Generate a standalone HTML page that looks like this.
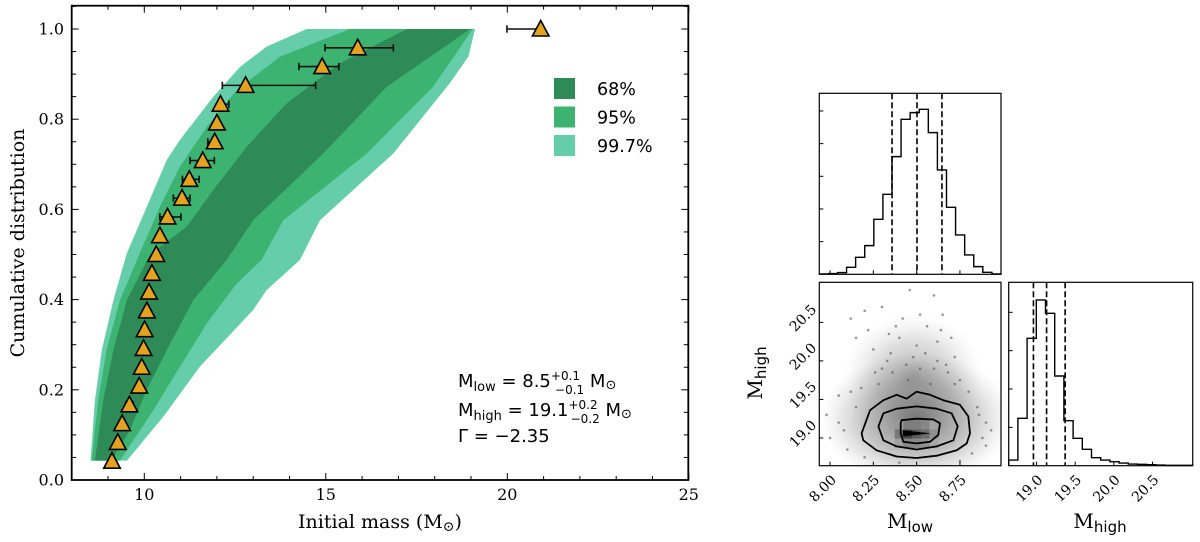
<!DOCTYPE html>
<html><head><meta charset="utf-8">
<style>
html,body{margin:0;padding:0;background:#fff;}
svg{display:block;}
.ser{font-family:"DejaVu Serif","Liberation Serif",serif;}
.sans{font-family:"DejaVu Sans","Liberation Sans",sans-serif;}
</style></head>
<body>
<svg id="chart" width="1200" height="542" viewBox="0 0 1200 542" xmlns="http://www.w3.org/2000/svg">
<defs>
<radialGradient id="cloud" cx="50%" cy="50%" r="50%">
<stop offset="0%" stop-color="#444" stop-opacity="0.75"/>
<stop offset="55%" stop-color="#777" stop-opacity="0.45"/>
<stop offset="100%" stop-color="#aaa" stop-opacity="0"/>
</radialGradient>
<clipPath id="clip2d"><rect x="819.3" y="282.3" width="181.7" height="183.4"/></clipPath>
</defs>
</svg>
<script>
// ---------- main chart data ----------
const cdfLevels = [1,2,3,4,5,6,7,8,9,10,11,12,13,14,15,16,17,18,19,20,21,22,23,24].map(i=>i/24);
const masses = [9.11,9.27,9.39,9.59,9.86,9.93,9.98,10.01,10.07,10.13,10.21,10.33,10.43,10.64,11.04,11.24,11.61,11.94,12.0,12.10,12.79,14.90,15.88,20.92];
const errLo  = [9.06,9.22,9.31,9.49,9.82,9.90,9.95,9.98,10.04,10.10,10.17,10.29,10.38,10.43,10.80,11.05,11.26,11.75,11.97,12.03,12.15,14.26,14.98,19.99];
const errHi  = [9.16,9.32,9.47,9.69,9.90,9.96,10.01,10.05,10.10,10.16,10.25,10.37,10.48,11.01,11.26,11.51,11.93,11.98,12.04,12.33,14.72,15.36,16.86,20.92];
const band997Left  = [[14.47,1.0],[13.37,0.961],[12.64,0.916],[11.90,0.850],[10.98,0.754],[10.62,0.710],[10.07,0.606],[9.52,0.503],[9.15,0.399],[8.83,0.288],[8.64,0.177],[8.52,0.043]];
const band997Right = [[9.52,0.043],[10.52,0.140],[11.53,0.251],[13.0,0.377],[13.37,0.421],[14.29,0.488],[14.84,0.576],[16.86,0.724],[18.42,0.880],[18.93,0.939],[19.11,1.0]];
const band95Left   = [[15.67,1.0],[13.74,0.939],[12.55,0.865],[11.72,0.783],[10.98,0.695],[10.43,0.606],[9.88,0.503],[9.33,0.399],[8.96,0.288],[8.73,0.177],[8.55,0.043]];
const band95Right  = [[9.33,0.043],[10.25,0.155],[10.98,0.251],[11.72,0.347],[12.55,0.436],[13.23,0.488],[13.83,0.576],[16.13,0.724],[17.96,0.872],[19.05,1.0]];
const band68Left   = [[17.23,1.0],[15.39,0.924],[13.92,0.835],[12.82,0.739],[11.90,0.643],[11.17,0.562],[10.16,0.5],[9.52,0.399],[9.15,0.288],[8.87,0.177],[8.64,0.043]];
const band68Right  = [[9.10,0.043],[9.61,0.111],[10.07,0.2],[10.62,0.288],[11.35,0.399],[12.27,0.488],[13.0,0.576],[14.93,0.724],[16.68,0.872],[18.98,1.0]];
const xTicks = [10,15,20,25];
const yTicks = [0.0,0.2,0.4,0.6,0.8,1.0];
const legendLabels = ["68%","95%","99.7%"];
const legendColors = ["#2e8b57","#3cb371","#66cdaa"];

// ---------- corner plot data ----------
const mlowCounts  = [1,2,5,21,51,86,165,240,353,465,485,495,425,313,201,118,58,23,6,1];
const mhighCounts = [17,142,382,497,457,269,135,82,49,24,17,12,8,5,4,3,2,1,1,1];
const mlowQuantiles  = [8.358,8.502,8.646];
const mhighQuantiles = [18.96,19.13,19.37];
const mlowTicks  = [8.00,8.25,8.50,8.75];
const mhighTicks = [19.0,19.5,20.0,20.5];
const contourOuter = [[8.182,19.06],[8.231,19.36],[8.308,19.49],[8.385,19.56],[8.442,19.51],[8.500,19.60],[8.577,19.56],[8.654,19.49],[8.750,19.43],[8.798,19.28],[8.808,19.06],[8.789,18.93],[8.731,18.84],[8.616,18.77],[8.500,18.74],[8.385,18.76],[8.269,18.84],[8.192,18.97]];
const contourMiddle = [[8.279,19.15],[8.308,19.32],[8.385,19.38],[8.5,19.41],[8.616,19.38],[8.702,19.32],[8.737,19.15],[8.712,18.97],[8.616,18.89],[8.5,18.85],[8.385,18.89],[8.308,18.97]];
const contourInner = [[8.408,19.19],[8.413,19.23],[8.5,19.25],[8.596,19.24],[8.635,19.19],[8.625,19.04],[8.577,18.95],[8.5,18.93],[8.423,18.95],[8.408,19.06]];
const scatterPts = [[8.05,19.55],[8.12,20.55],[8.15,20.3],[8.2,20.65],[8.25,20.15],[8.3,20.7],[8.33,20.0],[8.36,19.85],[8.4,20.3],[8.42,20.55],[8.46,20.92],[8.5,20.2],[8.52,19.9],[8.56,20.45],[8.6,20.85],[8.62,20.0],[8.65,20.6],[8.67,19.95],[8.7,20.3],[8.72,20.05],[8.75,19.75],[8.8,19.6],[8.85,19.4],[8.9,19.2],[8.93,19.1],[8.0,19.0],[8.05,19.2],[8.1,18.85],[8.15,19.4],[8.28,19.7],[8.45,19.75],[8.58,19.7],[8.38,20.45],[8.22,20.4],[8.62,20.25],[8.3,19.9],[8.48,20.05],[8.68,19.85],[8.12,19.6],[8.82,18.8],[8.2,18.75],[8.75,18.7],[8.4,18.68],[8.88,19.0],[7.98,19.3],[8.35,20.1],[8.55,20.1],[8.44,19.95],[8.6,19.9],[8.26,19.85],[8.72,19.7],[8.18,19.65],[8.64,20.4],[8.34,20.35],[8.52,20.6],[8.08,19.1],[8.86,19.3],[8.9,18.9]];
const densityMl = [8.40,8.45,8.50,8.55,8.60];
const densityMh = [19.17,19.05,18.93];
const densityVals = [[0.4,0.55,0.55,0.5,0.35],[0.6,0.9,0.75,0.65,0.45],[0.35,0.5,0.5,0.45,0.3]];

// ---------- helpers ----------
const NS="http://www.w3.org/2000/svg";
const svg=document.getElementById('chart');
function mk(tag,attrs,parent){const e=document.createElementNS(NS,tag);for(const k in attrs)e.setAttribute(k,attrs[k]);(parent||svg).appendChild(e);return e;}

const X=v=>71.7+(v-8)*36.3;
const Y=v=>480-v*451;
const main=mk('g',{});



function bandPoly(left,right,color,name){
  const pts=left.concat(right).map(p=>X(p[0]).toFixed(1)+','+Y(p[1]).toFixed(1)).join(' ');
  const p=mk('polygon',{points:pts,fill:color},main);
  
  
}
bandPoly(band997Left,band997Right,'#66cdaa','band-99-7');
bandPoly(band95Left,band95Right,'#3cb371','band-95');
bandPoly(band68Left,band68Right,'#2e8b57','band-68');

for(let i=0;i<masses.length;i++){
  const y=Y(cdfLevels[i]);
  const g=mk('g',{},main);
  
  
  const x1=X(errLo[i]),x2=X(errHi[i]);
  mk('line',{x1:x1,x2:x2,y1:y,y2:y,stroke:'#111','stroke-width':1.6},g);
  mk('line',{x1:x1,x2:x1,y1:y-3.7,y2:y+3.7,stroke:'#111','stroke-width':1.6},g);
  mk('line',{x1:x2,x2:x2,y1:y-3.7,y2:y+3.7,stroke:'#111','stroke-width':1.6},g);
  const x=X(masses[i]);
  mk('polygon',{points:`${x},${y-8.5} ${x-8.3},${y+7} ${x+8.3},${y+7}`,fill:'#e5a21f',stroke:'#000','stroke-width':1.6},g);
}

const fr=mk('rect',{x:71.7,y:5.7,width:616.6,height:474.3,fill:'none',stroke:'#000','stroke-width':1.8},main);


for(let v=8;v<=25;v++){
  const x=X(v),L=(v%5===0)?7:4;
  mk('line',{x1:x,x2:x,y1:480,y2:480-L,stroke:'#000','stroke-width':1},main);
  mk('line',{x1:x,x2:x,y1:5.7,y2:5.7+L,stroke:'#000','stroke-width':1},main);
}
for(let k=0;k<=21;k++){
  const v=k*0.05,y=Y(v),L=(k%4===0)?7:4.5;
  if(y<6)continue;
  mk('line',{x1:71.7,x2:71.7+L,y1:y,y2:y,stroke:'#000','stroke-width':1},main);
  mk('line',{x1:688.3,x2:688.3-L,y1:y,y2:y,stroke:'#000','stroke-width':1},main);
}
xTicks.forEach(v=>{
  const t=mk('text',{x:X(v),y:500,'text-anchor':'middle','font-size':16,class:'ser'},main);
  t.textContent=String(v);
  
  
});
yTicks.forEach(v=>{
  const t=mk('text',{x:64,y:Y(v)+5.5,'text-anchor':'end','font-size':16,class:'ser'},main);
  t.textContent=v.toFixed(1);
  
  
});
legendLabels.forEach((lab,i)=>{
  const g=mk('g',{},main);
  
  
  const y0=78+i*28.5;
  mk('rect',{x:554,y:y0,width:21,height:21,fill:legendColors[i]},g);
  const t=mk('text',{x:597,y:y0+17,'font-size':17.5,class:'sans'},g);
  t.textContent=lab;
});

(function(){
  const xl=mk('text',{x:380,y:528,'text-anchor':'middle','font-size':19,class:'ser'});
  xl.innerHTML='Initial mass (M<tspan font-size="14" dy="3">⊙</tspan><tspan dy="-3">)</tspan>';
  
  
  const yl=mk('text',{x:0,y:0,'text-anchor':'middle','font-size':19,class:'ser',transform:'translate(24,243) rotate(-90)'});
  yl.textContent='Cumulative distribution';
  
  
  const ann=mk('g',{class:'sans','font-size':18});
  
  
  const a1=mk('text',{x:458,y:387},ann);
  a1.innerHTML='M<tspan font-size="13" dy="4">low</tspan><tspan dy="-4"> = 8.5</tspan><tspan font-size="12" dy="-7">+0.1</tspan><tspan font-size="12" dx="-25" dy="14">−0.1</tspan><tspan dy="-7"> M</tspan><tspan font-size="13" dy="2">⊙</tspan>';
  const a2=mk('text',{x:458,y:416},ann);
  a2.innerHTML='M<tspan font-size="13" dy="4">high</tspan><tspan dy="-4"> = 19.1</tspan><tspan font-size="12" dy="-7">+0.2</tspan><tspan font-size="12" dx="-27" dy="14">−0.2</tspan><tspan dy="-7"> M</tspan><tspan font-size="13" dy="2">⊙</tspan>';
  const a3=mk('text',{x:458,y:442},ann);
  a3.textContent='Γ = −2.35';
})();

(function(){
  const P1={l:819.3,r:1001,t:93.3,b:274.3};
  const P2={l:819.3,r:1001,t:282.3,b:465.7};
  const P3={l:1008.7,r:1192.7,t:282.3,b:465.7};
  const mlMin=7.938,mlMax=8.987,mhMin=18.64,mhMax=21.02;
  const XL=v=>P2.l+(v-mlMin)/(mlMax-mlMin)*(P2.r-P2.l);
  const YH=v=>P2.b-(v-mhMin)/(mhMax-mhMin)*(P2.b-P2.t);
  const XH=v=>P3.l+(v-mhMin)/(mhMax-mhMin)*(P3.r-P3.l);
  const corner=mk('g',{});
  
  

  const g1=mk('g',{},corner);
  
  
  const maxC1=543;
  const H1=c=>P1.b-c/maxC1*(P1.b-P1.t);
  let d='M'+P1.l+','+P1.b;
  const bw1=(P1.r-P1.l)/mlowCounts.length;
  mlowCounts.forEach((c,i)=>{const x0=P1.l+i*bw1;d+=` L${x0},${H1(c)} L${x0+bw1},${H1(c)}`;});
  d+=` L${P1.r},${P1.b}`;
  mk('path',{d:d,fill:'none',stroke:'#000','stroke-width':1.4},g1);
  mlowQuantiles.forEach(q=>{
    const l=mk('line',{x1:XL(q),x2:XL(q),y1:P1.t,y2:P1.b,stroke:'#000','stroke-width':1.6,'stroke-dasharray':'6,3'},g1);
    
    
  });
  mk('rect',{x:P1.l,y:P1.t,width:P1.r-P1.l,height:P1.b-P1.t,fill:'none',stroke:'#000','stroke-width':1.2},g1);
  for(let c=98;c<maxC1;c+=98){mk('line',{x1:P1.l,x2:P1.l+4,y1:H1(c),y2:H1(c),stroke:'#000'},g1);}
  mlowTicks.forEach(v=>mk('line',{x1:XL(v),x2:XL(v),y1:P1.b,y2:P1.b-4,stroke:'#000'},g1));

  const g2=mk('g',{'clip-path':'url(#clip2d)'},corner);
  
  
  mk('ellipse',{cx:XL(8.5),cy:YH(19.25),rx:(XL(9.05)-XL(8.5)),ry:(YH(18.4)-YH(19.25)),fill:'url(#cloud)'},g2);
  mk('ellipse',{cx:XL(8.48),cy:YH(19.8),rx:(XL(8.9)-XL(8.5)),ry:(YH(19.0)-YH(19.8)),fill:'url(#cloud)',opacity:0.55},g2);
  scatterPts.forEach(p=>{
    const c=mk('circle',{cx:XL(p[0]),cy:YH(p[1]),r:1.3,fill:'#555','fill-opacity':0.6},g2);
    
    
  });
  const cw=XL(0.0525+mlMin)-XL(mlMin), ch=YH(mhMin)-YH(mhMin+0.119);
  densityVals.forEach((row,j)=>row.forEach((v,i)=>{
    const g=Math.round(220-v*170);
    mk('rect',{x:XL(densityMl[i])-cw/2,y:YH(densityMh[j])-ch/2,width:cw,height:ch,fill:`rgb(${g},${g},${g})`},g2);
  }));
  mk('polygon',{points:`${XL(8.42)},${YH(19.1)} ${XL(8.585)},${YH(19.06)} ${XL(8.42)},${YH(19.02)}`,fill:'#000'},g2);
  [[contourOuter,'contour-outer'],[contourMiddle,'contour-middle'],[contourInner,'contour-inner']].forEach(([arr,nm])=>{
    const pts=arr.map(p=>XL(p[0]).toFixed(1)+','+YH(p[1]).toFixed(1)).join(' ');
    const pg=mk('polygon',{points:pts,fill:nm==='contour-outer'?'rgba(255,255,255,0.0)':'none',stroke:'#000','stroke-width':1.8,'stroke-linejoin':'round'},g2);
    
    
  });
  mk('rect',{x:P2.l,y:P2.t,width:P2.r-P2.l,height:P2.b-P2.t,fill:'none',stroke:'#000','stroke-width':1.2},corner);
  mlowTicks.forEach(v=>{
    mk('line',{x1:XL(v),x2:XL(v),y1:P2.b,y2:P2.b-4,stroke:'#000'},corner);
    const t=mk('text',{x:0,y:0,'text-anchor':'end','font-size':14,class:'ser',transform:`translate(${XL(v)+7},${P2.b+15}) rotate(-45)`},corner);
    t.textContent=v.toFixed(2);
    
    
  });
  mhighTicks.forEach(v=>{
    mk('line',{x1:P2.l,x2:P2.l+4,y1:YH(v),y2:YH(v),stroke:'#000'},corner);
    const t=mk('text',{x:0,y:0,'text-anchor':'middle','font-size':14,class:'ser',transform:`translate(${P2.l-13},${YH(v)-1}) rotate(-45)`},corner);
    t.textContent=v.toFixed(1);
    
    
  });

  const g3=mk('g',{},corner);
  
  
  const maxC3=550;
  const H3=c=>P3.b-c/maxC3*(P3.b-P3.t);
  const bw3=(P3.r-P3.l)/mhighCounts.length;
  let d3='M'+P3.l+','+P3.b;
  mhighCounts.forEach((c,i)=>{const x0=P3.l+i*bw3;d3+=` L${x0},${H3(c)} L${x0+bw3},${H3(c)}`;});
  d3+=` L${P3.r},${P3.b}`;
  mk('path',{d:d3,fill:'none',stroke:'#000','stroke-width':1.4},g3);
  mhighQuantiles.forEach(q=>{
    const l=mk('line',{x1:XH(q),x2:XH(q),y1:P3.t,y2:P3.b,stroke:'#000','stroke-width':1.6,'stroke-dasharray':'6,3'},g3);
    
    
  });
  mk('rect',{x:P3.l,y:P3.t,width:P3.r-P3.l,height:P3.b-P3.t,fill:'none',stroke:'#000','stroke-width':1.2},g3);
  for(let c=115;c<maxC3;c+=115){mk('line',{x1:P3.l,x2:P3.l+4,y1:H3(c),y2:H3(c),stroke:'#000'},g3);}
  mhighTicks.forEach(v=>{
    mk('line',{x1:XH(v),x2:XH(v),y1:P3.b,y2:P3.b-4,stroke:'#000'},g3);
    const t=mk('text',{x:0,y:0,'text-anchor':'end','font-size':14,class:'ser',transform:`translate(${XH(v)+7},${P3.b+15}) rotate(-45)`},g3);
    t.textContent=v.toFixed(1);
    
    
  });

  const t1=mk('text',{x:910,y:528,'text-anchor':'middle','font-size':20,class:'ser'});
  t1.innerHTML='M<tspan font-size="15" dy="4" class="sans">low</tspan>';
  
  
  const t2=mk('text',{x:1100,y:528,'text-anchor':'middle','font-size':20,class:'ser'});
  t2.innerHTML='M<tspan font-size="15" dy="4" class="sans">high</tspan>';
  
  
  const t3=mk('text',{x:0,y:0,'text-anchor':'middle','font-size':20,class:'ser',transform:'translate(762,373) rotate(-90)'});
  t3.innerHTML='M<tspan font-size="15" dy="4" class="sans">high</tspan>';
  
  
})();
</script>
</body></html>
